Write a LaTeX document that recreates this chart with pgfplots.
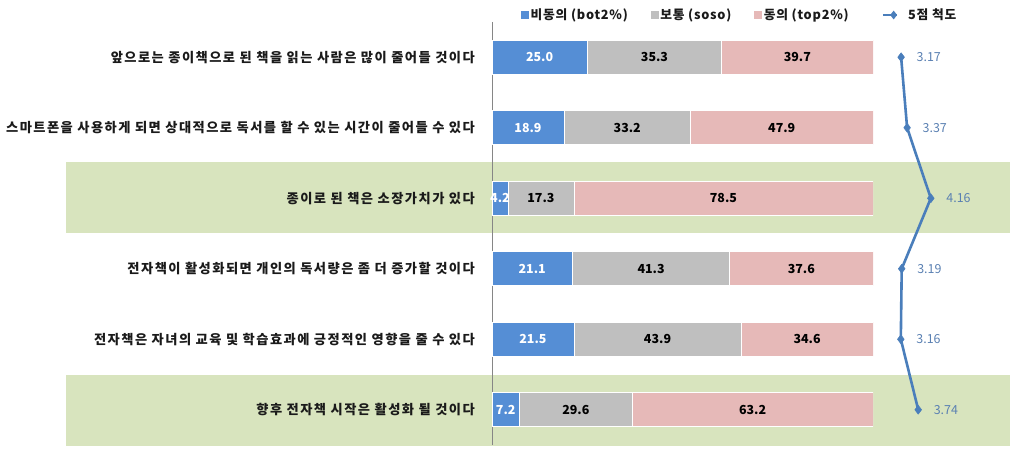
\documentclass[border=0pt]{standalone}
\usepackage{fontspec}
\setmainfont{Noto Sans CJK KR}
\newfontfamily\lab[LetterSpace=11]{Noto Sans CJK KR}
\newfontfamily\leg[LetterSpace=6]{Noto Sans CJK KR}
\usepackage{pgfplots}
\pgfplotsset{compat=1.18}
\usepackage{pgfplotstable}
\usetikzlibrary{shapes.geometric}

\definecolor{cBlue}{HTML}{558ED5}
\definecolor{cGray}{HTML}{BFBFBF}
\definecolor{cPink}{HTML}{E6B9B8}
\definecolor{cGreen}{HTML}{D8E4BE}
\definecolor{lineblue}{HTML}{4A7EBB}
\definecolor{numblue}{HTML}{5A80B2}
\definecolor{axisgray}{HTML}{868686}
\definecolor{txt}{HTML}{1A1A1A}

% r = row, a = bot2, b = soso, c = top2, s = 5-point mean
\pgfplotstableread{
r a b c s
0 25.0 35.3 39.7 3.17
1 18.9 33.2 47.9 3.37
2 4.2 17.3 78.5 4.16
3 21.1 41.3 37.6 3.19
4 21.5 43.9 34.6 3.16
5 7.2 29.6 63.2 3.74
}\survey

\pgfplotsset{
  /pgf/number format/assume math mode=true,
  rowaxis/.style={scale only axis,width=381bp,height=423bp,
    ymin=-0.5,ymax=5.5,y dir=reverse,enlargelimits=false,
    at={(492bp,11bp)},anchor=south west},
  barlabel/.style={draw=none,mark=none,forget plot,point meta=explicit,
    nodes near coords={\pgfmathprintnumber[fixed,fixed zerofill,precision=1]{\pgfplotspointmeta}},
    every node near coord/.append style={anchor=center,text=#1,
      font=\bfseries\fontsize{12.5}{14}\selectfont}},
}

\begin{document}
\begin{tikzpicture}[x=1bp,y=1bp]
\useasboundingbox (0,0) rectangle (1024,456);
\fill[cGreen] (66,223) rectangle (1010,294);
\fill[cGreen] (66,10) rectangle (1010,81);

% stacked bars
\begin{axis}[rowaxis,xbar stacked,bar width=34bp,xmin=0,xmax=100,
  axis x line=none,axis y line*=left,
  y axis line style={draw=axisgray,line width=0.8bp},
  ytick={0,...,5},major tick length=0pt,
  yticklabels={앞으로는 종이책으로 된 책을 읽는 사람은 많이 줄어들 것이다,
    스마트폰을 사용하게 되면 상대적으로 독서를 할 수 있는 시간이 줄어들 수 있다,
    종이로 된 책은 소장가치가 있다,
    전자책이 활성화되면 개인의 독서량은 좀 더 증가할 것이다,
    전자책은 자녀의 교육 및 학습효과에 긍정적인 영향을 줄 수 있다,
    향후 전자책 시작은 활성화 될 것이다},
  yticklabel style={font=\lab\bfseries\fontsize{13.3}{15}\selectfont,text=txt,
    inner sep=0pt,xshift=-17bp}]
\addplot[fill=cBlue,draw=white,line width=0.6bp] table[x=a,y=r]{\survey};
\addplot[fill=cGray,draw=white,line width=0.6bp] table[x=b,y=r]{\survey};
\addplot[fill=cPink,draw=white,line width=0.6bp] table[x=c,y=r]{\survey};
\end{axis}

% segment labels and legend
\begin{axis}[rowaxis,xmin=0,xmax=100,hide axis,clip=false,
  legend columns=-1,legend cell align=left,
  legend style={draw=none,fill=none,inner sep=0pt,
    at={(axis description cs:0.0761,1.0165)},anchor=west,
    font=\leg\bfseries\fontsize{12.8}{14}\selectfont,text=txt,
    /tikz/every even column/.append style={column sep=21bp}}]
\addplot[barlabel=white] table[x expr=\thisrow{a}/2,y=r,meta=a]{\survey};
\addplot[barlabel=black] table[x expr=\thisrow{a}+\thisrow{b}/2,y=r,meta=b]{\survey};
\addplot[barlabel=black] table[x expr=\thisrow{a}+\thisrow{b}+\thisrow{c}/2,y=r,meta=c]{\survey};
\addlegendimage{legend image code/.code={\fill[cBlue] (0bp,-3.5bp) rectangle (7bp,3.5bp);}}
\addlegendentry{비동의 (bot2\%)}
\addlegendimage{legend image code/.code={\fill[cGray] (0bp,-3.5bp) rectangle (7bp,3.5bp);}}
\addlegendentry{보통 (soso)}
\addlegendimage{legend image code/.code={\fill[cPink] (0bp,-3.5bp) rectangle (7bp,3.5bp);}}
\addlegendentry{동의 (top2\%)}
\addlegendimage{legend image code/.code={\path (-11bp,0bp) (23bp,0bp);
  \draw[lineblue,line width=1.6bp] (0bp,0bp)--(14bp,0bp);
  \node[diamond,fill=lineblue,inner sep=0pt,minimum width=7bp,minimum height=9bp] at (7bp,0bp) {};}}
\addlegendentry{5점 척도}
\end{axis}

% 5-point scale line
\begin{axis}[rowaxis,width=45bp,at={(896bp,11bp)},xmin=3,xmax=4.5,
  hide axis,clip=false]
\addplot[lineblue,line width=2.6bp,line join=round,mark=diamond*,mark size=4.5bp,
  mark options={fill=lineblue,draw=lineblue,line width=0.5bp},
  point meta=explicit,
  nodes near coords={\pgfmathprintnumber[fixed,fixed zerofill,precision=2]{\pgfplotspointmeta}},
  every node near coord/.append style={anchor=west,xshift=12bp,text=numblue,
    font=\fontsize{12.5}{14}\selectfont}]
  table[x=s,y=r,meta=s]{\survey};
\end{axis}
\end{tikzpicture}
\end{document}
